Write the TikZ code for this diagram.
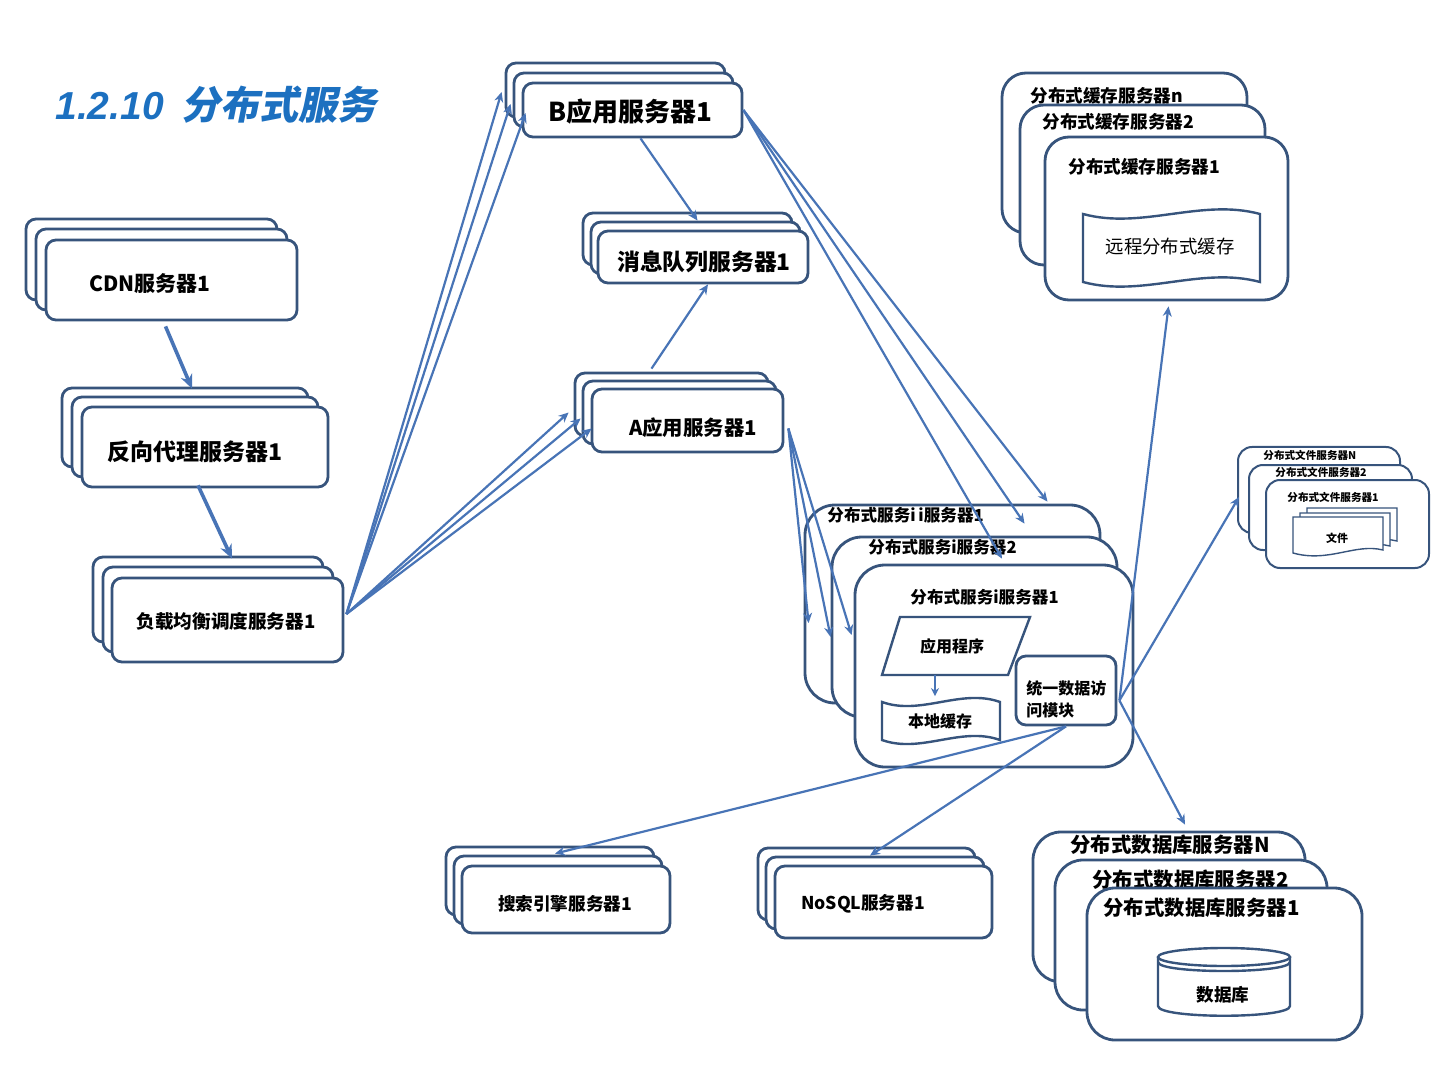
\documentclass[tikz,border=0pt]{standalone}
\usepackage{fontspec}
\setmainfont{Noto Sans CJK SC}
\newfontfamily\latinb{Liberation Sans}
\newfontfamily\tcjk{Noto Sans CJK SC}[FakeSlant=0.2]
\usetikzlibrary{fit,calc,arrows.meta}
\definecolor{boxc}{RGB}{55,84,124}
\definecolor{arrc}{RGB}{72,116,182}
\definecolor{titc}{RGB}{28,112,192}
\newcommand\fs[1]{\fontsize{#1}{#1}\selectfont}
\begin{document}
\begin{tikzpicture}[x=0.5pt,y=-0.5pt,
 bx/.style={draw=boxc, line width=1.4pt, fill=white, rounded corners=5pt, inner sep=0pt},
 bigbx/.style={bx, rounded corners=14pt},
 filebx/.style={bx, line width=1pt, rounded corners=7pt},
 shp/.style={draw=boxc, line width=1.2pt, fill=white},
 arr/.style={draw=arrc, line width=1.1pt, -{Stealth[length=5pt,width=4.5pt]}},
 arrb/.style={draw=arrc, line width=1.8pt, -{Stealth[length=7pt,width=6pt]}},
 lbl/.style={inner sep=0pt, text=black, font=\bfseries},
]
\useasboundingbox (0,0) rectangle (1440,1080);

% title
\node[anchor=west, inner sep=0pt, text=titc] (title) at (55,105)
  {\latinb\bfseries\itshape\fs{19.5}1.2.10\hspace{9pt}\tcjk\bfseries 分布式服务};

% CDN
\node[bx, fit={(26,219)(277,300)}] (cdn3) {};
\node[bx, fit={(36,229)(287,310)}] (cdn2) {};
\node[bx, fit={(46,240)(297,320)}] (cdn1) {};
\node[lbl, font=\bfseries\fs{10.5}] (cdnt) at (150,284) {CDN服务器1};

% reverse proxy
\node[bx, fit={(62,388)(308,467)}] (prx3) {};
\node[bx, fit={(72,397)(318,477)}] (prx2) {};
\node[bx, fit={(82,407)(328,487)}] (prx1) {};
\node[lbl, font=\bfseries\fs{11.5}] (prxt) at (195,452) {反向代理服务器1};

% load balancer
\node[bx, fit={(93,557)(323,642)}] (lb3) {};
\node[bx, fit={(103,567)(333,652)}] (lb2) {};
\node[bx, fit={(112,578)(343,662)}] (lb1) {};
\node[lbl, font=\bfseries\fs{9.3}] (lbt) at (226,621) {负载均衡调度服务器1};

% B app server
\node[bx, fit={(506,63)(725,117)}] (b3) {};
\node[bx, fit={(514,73)(733,127)}] (b2) {};
\node[bx, fit={(523,83)(742,137)}] (b1) {};
\node[lbl, font=\bfseries\fs{13}] (bt) at (630,112) {B应用服务器1};

% message queue
\node[bx, fit={(583,213)(792,265)}] (mq3) {};
\node[bx, fit={(591,222)(800,274)}] (mq2) {};
\node[bx, fit={(598,231)(808,283)}] (mq1) {};
\node[lbl, font=\bfseries\fs{11.4}] (mqt) at (704,262) {消息队列服务器1};

% A app server
\node[bx, fit={(575,373)(768,436)}] (a3) {};
\node[bx, fit={(583,381)(776,444)}] (a2) {};
\node[bx, fit={(592,389)(783,452)}] (a1) {};
\node[lbl, font=\bfseries\fs{10.2}] (at) at (693,428) {A应用服务器1};

% search engine
\node[bx, fit={(446,847)(654,915)}] (s3) {};
\node[bx, fit={(454,856)(662,924)}] (s2) {};
\node[bx, fit={(462,866)(670,933)}] (s1) {};
\node[lbl, font=\bfseries\fs{8.8}] (st) at (565,904) {搜索引擎服务器1};

% NoSQL
\node[bx, fit={(758,848)(975,920)}] (n3) {};
\node[bx, fit={(766,857)(984,929)}] (n2) {};
\node[bx, fit={(775,866)(992,938)}] (n1) {};
\node[lbl, font=\bfseries\fs{8.8}] (nt) at (863,904) {NoSQL服务器1};

% distributed service cluster
\node[bigbx, rounded corners=15pt, fit={(805,505)(1100,703)}] (ds3) {};
\node[lbl, font=\bfseries\fs{8.3}, anchor=west] (ds3t) at (827,515) {分布式服务i\,i服务器1};
\node[bigbx, rounded corners=15pt, fit={(832,537)(1117,717)}] (ds2) {};
\node[lbl, font=\bfseries\fs{8.3}, anchor=west] (ds2t) at (868,547) {分布式服务i服务器2};
\node[bigbx, rounded corners=15pt, fit={(855,565)(1133,767)}] (ds1) {};
\node[lbl, font=\bfseries\fs{8.3}, anchor=west] (ds1t) at (910,597) {分布式服务i服务器1};

% application program (parallelogram)
\draw[shp] (900,617) -- (1030,617) -- (1008,675) -- (882,675) -- cycle;
\node[lbl, font=\bfseries\fs{8}, minimum height=29pt] (app) at (952,646) {应用程序};

% local cache (punched tape)
\draw[shp] (882,702) .. controls (921,716) and (961,688) .. (1000,702)
  -- (1000,740) .. controls (961,726) and (921,754) .. (882,740) -- cycle;
\node[lbl, font=\bfseries\fs{8}, minimum height=23.5pt] (lc) at (940,721) {本地缓存};

% unified data access module
\node[bx, fit={(1016,656)(1116,725)}] (mod) {};
\node[lbl, font=\bfseries\fs{8}, anchor=west, align=left, execute at begin node=\setlength{\baselineskip}{11pt}] (modt) at (1026,699) {统一数据访\\问模块};

% cache cluster
\node[bigbx, rounded corners=12pt, fit={(1002,73)(1247,233)}] (c3) {};
\node[lbl, font=\bfseries\fs{8.8}, anchor=west] (c3t) at (1030,96) {分布式缓存服务器n};
\node[bigbx, rounded corners=12pt, fit={(1020,105)(1265,265)}] (c2) {};
\node[lbl, font=\bfseries\fs{8.8}, anchor=west] (c2t) at (1042,122) {分布式缓存服务器2};
\node[bigbx, rounded corners=12pt, fit={(1045,137)(1288,300)}] (c1) {};
\node[lbl, font=\bfseries\fs{8.8}, anchor=west] (c1t) at (1068,167) {分布式缓存服务器1};
\draw[shp] (1083,214) .. controls (1142,230) and (1201,198) .. (1260,214)
  -- (1260,282) .. controls (1201,266) and (1142,298) .. (1083,282) -- cycle;
\node[inner sep=0pt, font=\fs{9.2}] (rc) at (1170,247) {远程分布式缓存};

% file cluster
\node[filebx, fit={(1238,447)(1400,533)}] (f3) {};
\node[lbl, font=\bfseries\fs{5.3}, anchor=west] (f3t) at (1263,455) {分布式文件服务器N};
\node[filebx, fit={(1249,465)(1412,550)}] (f2) {};
\node[lbl, font=\bfseries\fs{5.3}, anchor=west] (f2t) at (1275,472) {分布式文件服务器2};
\node[filebx, fit={(1266,480)(1429,568)}] (f1) {};
\node[lbl, font=\bfseries\fs{5.3}, anchor=west] (f1t) at (1287,497) {分布式文件服务器1};
\foreach \x/\y in {1307/508,1300/513,1293/517}{
  \draw[draw=boxc, line width=0.7pt, fill=white] (\x,\y) -- (\x+90,\y) -- (\x+90,\y+33)
    .. controls (\x+62,\y+26) and (\x+36,\y+46) .. (\x,\y+36) -- cycle;
}
\node[lbl, font=\bfseries\fs{5.5}] (ft) at (1337,538) {文件};

% database cluster
\node[bigbx, fit={(1033,832)(1305,982)}] (db3) {};
\node[lbl, font=\bfseries\fs{10.2}, anchor=west] (db3t) at (1070,845) {分布式数据库服务器N};
\node[bigbx, fit={(1055,860)(1327,1010)}] (db2) {};
\node[lbl, font=\bfseries\fs{10.2}, anchor=west] (db2t) at (1092,880) {分布式数据库服务器2};
\node[bigbx, fit={(1087,888)(1362,1040)}] (db1) {};
\node[lbl, font=\bfseries\fs{10.2}, anchor=west] (db1t) at (1103,908) {分布式数据库服务器1};
\draw[shp] (1158,957) -- (1158,1006) .. controls (1158,1019) and (1290,1019) .. (1290,1006) -- (1290,957);
\draw[shp] (1224,957) ellipse [x radius=33pt, y radius=4.5pt];
\draw[draw=boxc, line width=1.2pt] (1158,962) .. controls (1158,974) and (1290,974) .. (1290,962);
\node[lbl, font=\bfseries\fs{8.8}] (dbt) at (1223,995) {数据库};

% ---------- connectors ----------
\draw[arrb] ($(cdn1.south)+(-6,5)$) -- ($(prx3.north)+(7,2)$);
\draw[arrb] ($(prx1.south)+(-7,-3)$) -- ($(lb3.north)+(24,3)$);

\coordinate (lbo) at ($(lb1.east)+(2,-6)$);
\draw[arr] (lbo) -- ($(b3.west)+(-3,2)$);
\draw[arr] (lbo) -- ($(b2.west)+(-2,4)$);
\draw[arr] (lbo) -- ($(b1.west)+(4,3)$);
\draw[arr] (lbo) -- ($(a3.west)+(-5,8)$);
\draw[arr] (lbo) -- ($(a2.west)+(-1,6)$);
\draw[arr] (lbo) -- ($(a1.west)+(1,8)$);

\draw[arr] ($(b1.south)+(8,0)$) -- ($(mq2.north)+(2,0)$);
\draw[arr] ($(a3.north)+(-20,-3)$) -- ($(mq1.south)+(5,0)$);

\draw[arr] (b1.east) -- ($(ds3.north)+(95,-2)$);
\draw[arr] (b1.east) -- ($(ds3.north)+(72,20)$);
\draw[arr] (b1.east) -- ($(ds1.north)+(8,-5)$);

\coordinate (ao) at ($(a1.east)+(4,8)$);
\draw[arr] (ao) -- ($(ds3.west)+(5,19)$);
\draw[arr] (ao) -- ($(ds2.west)+(0,10)$);
\draw[arr] (ao) -- ($(ds1.west)+(-2,-31)$);

\draw[arr, line width=0.8pt, -{Stealth[length=4pt,width=4pt]}] ($(app.south)+(-17,0)$) -- ($(lc.north)+(-5,-1)$);

\coordinate (mo) at ($(mod.east)+(2,10)$);
\draw[arr] (mo) -- ($(c1.south)+(2,5)$);
\draw[arr] (mo) -- ($(f3.west)+(2,7)$);
\draw[arr] (mo) -- ($(db3.north)+(16,-6)$);
\draw[arr] (mod.south) -- ($(s2.north)+(-3,-1)$);
\draw[arr] (mod.south) -- ($(n2.north)+(-5,0)$);
\end{tikzpicture}
\end{document}
